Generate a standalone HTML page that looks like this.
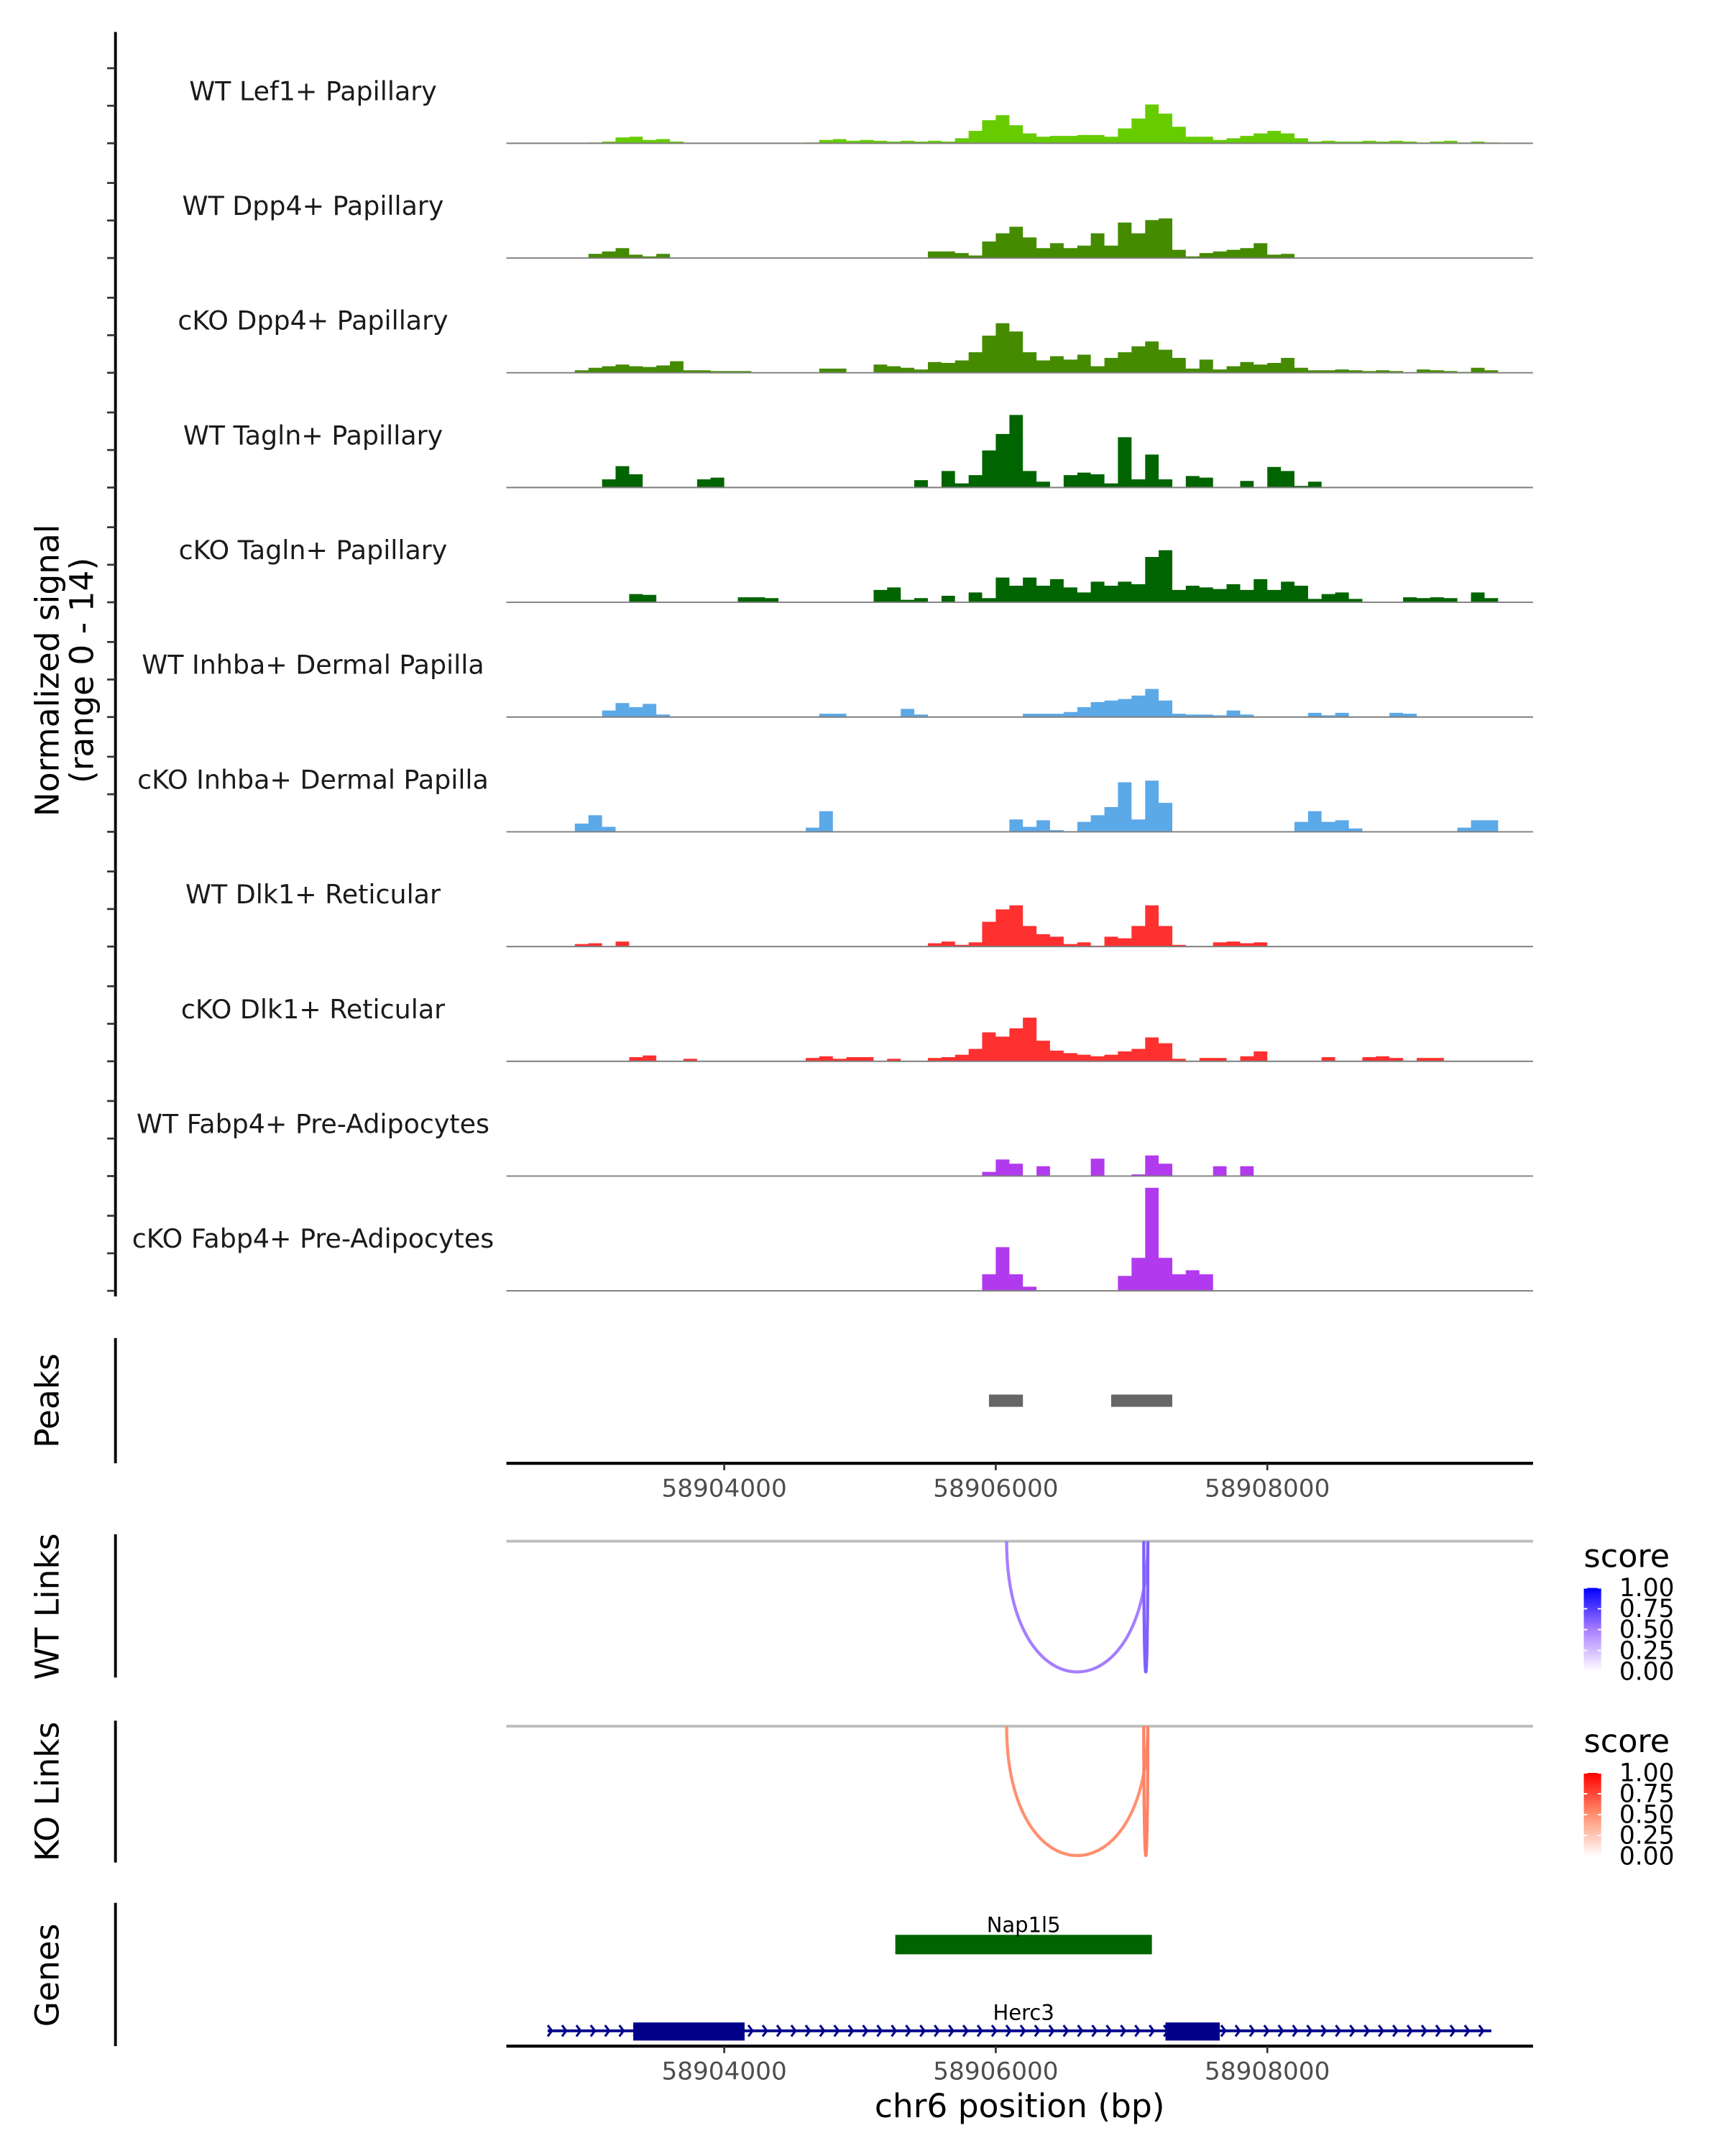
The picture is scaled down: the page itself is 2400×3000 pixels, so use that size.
<!DOCTYPE html>
<html><head><meta charset="utf-8"><style>
html,body{margin:0;padding:0;background:#fff;}
svg{display:block;font-family:"DejaVu Sans","Liberation Sans",sans-serif;}
</style></head><body>
<svg id="fig" width="2400" height="3000" viewBox="0 0 1240 1550" preserveAspectRatio="none" xmlns="http://www.w3.org/2000/svg"></svg>
<script>
// ---- data ----
const trackNames = ["WT Lef1+ Papillary","WT Dpp4+ Papillary","cKO Dpp4+ Papillary","WT Tagln+ Papillary","cKO Tagln+ Papillary","WT Inhba+ Dermal Papilla","cKO Inhba+ Dermal Papilla","WT Dlk1+ Reticular","cKO Dlk1+ Reticular","WT Fabp4+ Pre-Adipocytes","cKO Fabp4+ Pre-Adipocytes"];
const trackColors = ["#66cc00","#458b00","#458b00","#006400","#006400","#5ca9e8","#5ca9e8","#ff3030","#ff3030","#b23aee","#b23aee"];
const binStart = 58902400;
const binSize = 100;
const covLef1WT = [0,0,0,0,0,0,0.1,0.2,0.7,0.8,0.4,0.5,0.2,0,0,0,0,0,0,0,0,0,0.1,0.4,0.5,0.3,0.4,0.3,0.2,0.3,0.2,0.3,0.2,0.6,1.5,2.8,3.4,2.2,1.2,0.8,0.9,0.9,1.0,1.0,0.8,1.8,3.0,4.7,3.6,2.0,0.8,0.8,0.4,0.6,0.9,1.2,1.5,1.2,0.6,0.2,0.3,0.2,0.2,0.3,0.2,0.3,0.2,0.1,0.2,0.3,0.1,0.2,0.1,0,0,0];
const covDpp4WT = [0,0,0,0,0,0,0.5,0.8,1.2,0.4,0.2,0.5,0,0,0,0,0,0,0,0,0,0,0,0,0,0,0,0,0,0,0,0.8,0.8,0.6,0.3,2.0,3.0,3.8,2.5,1.2,1.8,1.2,1.5,3.0,1.5,4.3,3.0,4.6,4.8,1.0,0.2,0.6,0.8,1.0,1.2,1.8,0.4,0.5,0,0,0,0,0,0,0,0,0,0,0,0,0,0,0,0,0,0];
const covDpp4KO = [0,0,0,0,0,0.3,0.6,0.8,1.0,0.8,0.7,0.9,1.4,0.3,0.3,0.2,0.2,0.2,0,0,0,0,0,0.5,0.5,0,0,1.0,0.8,0.6,0.4,1.3,1.2,1.5,2.5,4.5,6.0,5.0,2.5,1.5,2.0,1.6,2.2,0.8,1.8,2.5,3.2,3.8,2.8,1.8,0.5,1.6,0.4,0.8,1.3,1.0,1.2,1.8,0.6,0.3,0.3,0.4,0.3,0.2,0.3,0.2,0,0.4,0.3,0.2,0.1,0.6,0.3,0,0,0];
const covTaglnWT = [0,0,0,0,0,0,0,1.0,2.6,1.6,0,0,0,0,1.0,1.2,0,0,0,0,0,0,0,0,0,0,0,0,0,0,0.9,0,2.0,0.5,1.5,4.5,6.5,8.8,2.0,0.7,0,1.5,1.8,1.6,0.5,6.1,1.0,4.0,1.0,0,1.4,1.2,0,0,0.8,0,2.5,2.0,0.2,0.7,0,0,0,0,0,0,0,0,0,0,0,0,0,0,0,0];
const covTaglnKO = [0,0,0,0,0,0,0,0,0,1.0,0.9,0,0,0,0,0,0,0.6,0.6,0.5,0,0,0,0,0,0,0,1.5,1.8,0.3,0.5,0,0.8,0,1.2,0.5,3.0,2.0,3.0,2.0,2.8,1.8,1.2,2.5,2.0,2.5,2.2,5.5,6.3,1.5,2.0,1.8,1.6,2.2,1.5,2.8,1.5,2.5,2.0,0.4,1.0,1.2,0.4,0,0,0,0.6,0.5,0.6,0.5,0,1.2,0.5,0,0,0];
const covInhbaWT = [0,0,0,0,0,0,0,0.8,1.7,1.2,1.6,0.3,0,0,0,0,0,0,0,0,0,0,0,0.4,0.4,0,0,0,0,1.0,0.3,0,0,0,0,0,0,0,0.4,0.4,0.4,0.6,1.2,1.8,2.0,2.2,2.6,3.4,2.0,0.4,0.3,0.3,0.2,0.8,0.3,0,0,0,0,0.5,0.2,0.5,0,0,0,0.5,0.4,0,0,0,0,0,0,0,0,0];
const covInhbaKO = [0,0,0,0,0,1.0,2.0,0.6,0,0,0,0,0,0,0,0,0,0,0,0,0,0,0.5,2.5,0,0,0,0,0,0,0,0,0,0,0,0,0,1.5,0.6,1.4,0.2,0,1.2,2.0,3.0,6.0,1.5,6.2,3.5,0,0,0,0,0,0,0,0,0,1.2,2.5,1.2,1.4,0.4,0,0,0,0,0,0,0,0.5,1.4,1.4,0,0,0];
const covDlk1WT = [0,0,0,0,0,0.3,0.4,0,0.6,0,0,0,0,0,0,0,0,0,0,0,0,0,0,0,0,0,0,0,0,0,0,0.4,0.6,0.2,0.5,3.0,4.5,5.0,2.5,1.5,1.2,0.3,0.5,0.1,1.2,1.0,2.5,5.0,2.5,0.2,0,0,0.5,0.6,0.4,0.5,0,0,0,0,0,0,0,0,0,0,0,0,0,0,0,0,0,0,0,0];
const covDlk1KO = [0,0,0,0,0,0,0,0,0,0.5,0.7,0,0,0.3,0,0,0,0,0,0,0,0,0.4,0.6,0.3,0.5,0.5,0,0.3,0,0,0.4,0.5,0.8,1.5,3.5,3.0,4.0,5.3,2.5,1.3,1.0,0.8,0.6,0.8,1.2,1.5,2.9,2.2,0.3,0,0.4,0.4,0,0.6,1.2,0,0,0,0,0.5,0,0,0.5,0.6,0.4,0,0.4,0.4,0,0,0,0,0,0,0];
const covFabp4WT = [0,0,0,0,0,0,0,0,0,0,0,0,0,0,0,0,0,0,0,0,0,0,0,0,0,0,0,0,0,0,0,0,0,0,0,0.5,2.0,1.5,0,1.2,0,0,0,2.1,0,0,0.2,2.5,1.5,0,0,0,1.2,0,1.2,0,0,0,0,0,0,0,0,0,0,0,0,0,0,0,0,0,0,0,0,0];
const covFabp4KO = [0,0,0,0,0,0,0,0,0,0,0,0,0,0,0,0,0,0,0,0,0,0,0,0,0,0,0,0,0,0,0,0,0,0,0,2.0,5.3,2.0,0.5,0,0,0,0,0,0,1.8,4.0,12.5,4.0,2.0,2.5,2.0,0,0,0,0,0,0,0,0,0,0,0,0,0,0,0,0,0,0,0,0,0,0,0,0];
const coverage = [covLef1WT,covDpp4WT,covDpp4KO,covTaglnWT,covTaglnKO,covInhbaWT,covInhbaKO,covDlk1WT,covDlk1KO,covFabp4WT,covFabp4KO];
const yTicks = [0, 4.55, 9.1];
const peakStarts = [58905950, 58906850];
const peakEnds = [58906200, 58907300];
const xTicks = [58904000, 58906000, 58908000];
const wtLinkStart = [58906080, 58907090];
const wtLinkEnd = [58907120, 58907120];
const wtLinkScore = [0.5, 0.62];
const koLinkStart = [58906080, 58907090];
const koLinkEnd = [58907120, 58907120];
const koLinkScore = [0.5, 0.55];
const legendTicks = [1.00, 0.75, 0.50, 0.25, 0.00];
const geneNames = ["Nap1l5","Herc3"];
const geneStarts = [58905260, 58902700];
const geneEnds = [58907150, 58909650];
const herc3ExonStarts = [58903330, 58907250];
const herc3ExonEnds = [58904150, 58907650];

// ---- scales ----
const X0 = 364, X1 = 1102;
function xs(bp){ return 715.8 + (bp - 58906000) * 0.0976; }
const trackBase0 = 103, trackStep = 82.5, unitPx = 5.93;
function ys(k, v){ return trackBase0 + trackStep*k - v*unitPx; }

const svg = document.getElementById('fig');
const NS = "http://www.w3.org/2000/svg";
function mk(tag, attrs, parent){
  const e = document.createElementNS(NS, tag);
  for (const k in attrs) e.setAttribute(k, attrs[k]);
  (parent||svg).appendChild(e);
  return e;
}
function txt(s, attrs, parent){ const e = mk('text', attrs, parent); e.textContent = s; return e; }

// y axis title
const yt = txt("", {x:0,y:0,transform:"translate(42,482) rotate(-90)","text-anchor":"middle","font-size":"23.5",fill:"#000"});


const t1 = mk('tspan',{x:0,y:0},yt); t1.textContent="Normalized signal";
const t2 = mk('tspan',{x:0,y:25},yt); t2.textContent="(range 0 - 14)";

const la = mk('line',{x1:83,y1:23,x2:83,y2:932,stroke:"#000","stroke-width":"2"});



coverage.forEach((vals, k) => {
  const g = mk('g',{});
  
  
  yTicks.forEach(t => {
    const tk = mk('line',{x1:77,x2:83,y1:ys(k,t),y2:ys(k,t),stroke:"#333","stroke-width":"1.4"},g);
    
    
  });
  const lab = txt(trackNames[k],{x:225,y:ys(k,0)-31,"text-anchor":"middle","font-size":"18.8",fill:"#1a1a1a"},g);
  
  
  let d = "M" + X0 + "," + ys(k,0);
  vals.forEach((v,i) => {
    const xa = xs(binStart + i*binSize), xb = xs(binStart + (i+1)*binSize);
    d += " L" + xa.toFixed(1) + "," + ys(k,v).toFixed(1) + " L" + xb.toFixed(1) + "," + ys(k,v).toFixed(1);
  });
  d += " L" + X1 + "," + ys(k,0) + " Z";
  const area = mk('path',{d:d,fill:trackColors[k],stroke:"none"},g);
  
  
  const bl = mk('line',{x1:X0,x2:X1,y1:ys(k,0),y2:ys(k,0),stroke:"#7f7f7f","stroke-width":"1"},g);
  
  
});

function sideTitle(s, cy, name){
  const e = txt(s,{x:0,y:0,transform:"translate(42,"+cy+") rotate(-90)","text-anchor":"middle","font-size":"23.5",fill:"#000"});
  
  
}
function sideLine(y1,y2,name){
  const e = mk('line',{x1:83,x2:83,y1:y1,y2:y2,stroke:"#000","stroke-width":"2"});
  
  
}
function xAxis(y, name){
  const g = mk('g',{});
  
  
  mk('line',{x1:X0,x2:X1,y1:y,y2:y,stroke:"#000","stroke-width":"2.2"},g);
  xTicks.forEach(t => {
    mk('line',{x1:xs(t),x2:xs(t),y1:y,y2:y+5,stroke:"#333","stroke-width":"1.4"},g);
    const l = txt(String(t),{x:xs(t),y:y+24,"text-anchor":"middle","font-size":"17.7",fill:"#4d4d4d"},g);
    
    
  });
}

// Peaks
sideTitle("Peaks",1007,'peaks-title');
sideLine(962,1052,'peaks-axis-line');
peakStarts.forEach((s,i) => {
  const r = mk('rect',{x:xs(s),y:1002.6,width:xs(peakEnds[i])-xs(s),height:8.8,fill:"#666"});
  
  
});
xAxis(1052,'peaks-x-axis');

// color scales (white -> mid -> full)
function hex(c){ return [parseInt(c.slice(1,3),16),parseInt(c.slice(3,5),16),parseInt(c.slice(5,7),16)]; }
function lerp(a,b,t){ return a.map((v,i)=>Math.round(v+(b[i]-v)*t)); }
function scaleColor(stops, t){
  const a = hex(stops[0]), m = hex(stops[1]), b = hex(stops[2]);
  const c = t < 0.5 ? lerp(a,m,t/0.5) : lerp(m,b,(t-0.5)/0.5);
  return "rgb("+c.join(",")+")";
}
const wtStops = ["#ffffff","#a77dff","#0000ff"];
const koStops = ["#ffffff","#ff9070","#ff0000"];

function links(starts, ends, scores, top, bottom, stops, name){
  const g = mk('g',{});
  
  
  mk('line',{x1:X0,x2:X1,y1:top,y2:top,stroke:"#bebebe","stroke-width":"2"},g);
  starts.forEach((s,i) => {
    const a = xs(s), b = xs(ends[i]);
    const cy = top + (bottom - top) / 0.75;
    const p = mk('path',{d:"M"+a+","+top+" C"+a+","+cy+" "+b+","+cy+" "+b+","+top,fill:"none",stroke:scaleColor(stops,scores[i]),"stroke-width":"2.2"},g);
    
    
  });
}
function legend(top, stops, name){
  const g = mk('g',{});
  
  
  txt("score",{x:1138.5,y:top,"font-size":"23",fill:"#000"},g);
  const gid = name + "-grad";
  const defs = mk('defs',{},g);
  const lg = mk('linearGradient',{id:gid,x1:0,y1:1,x2:0,y2:0},defs);
  mk('stop',{offset:"0",'stop-color':stops[0]},lg);
  mk('stop',{offset:"0.5",'stop-color':stops[1]},lg);
  mk('stop',{offset:"1",'stop-color':stops[2]},lg);
  const cbTop = top + 15, cbH = 60;
  mk('rect',{x:1138.5,y:cbTop,width:12.5,height:cbH,fill:"url(#"+gid+")"},g);
  legendTicks.forEach(v => {
    const y = cbTop + (1-v)*cbH;
    mk('line',{x1:1138.5,x2:1141,y1:y,y2:y,stroke:"#fff","stroke-width":"1"},g);
    mk('line',{x1:1148.5,x2:1151,y1:y,y2:y,stroke:"#fff","stroke-width":"1"},g);
    const l = txt(v.toFixed(2),{x:1164,y:y+6,"font-size":"17.8",fill:"#000"},g);
    
    
  });
}
sideTitle("WT Links",1155,'wt-links-title');
sideLine(1103,1206,'wt-links-axis-line');
links(wtLinkStart, wtLinkEnd, wtLinkScore, 1108, 1202, wtStops, 'wt-links');
legend(1126.6, wtStops, 'wt-score-legend');

sideTitle("KO Links",1288,'ko-links-title');
sideLine(1237,1339,'ko-links-axis-line');
links(koLinkStart, koLinkEnd, koLinkScore, 1241, 1334, koStops, 'ko-links');
legend(1259.6, koStops, 'ko-score-legend');

// Genes
sideTitle("Genes",1420,'genes-title');
sideLine(1368,1471,'genes-axis-line');
const gg = mk('g',{});


const nap = mk('rect',{x:xs(geneStarts[0]),y:1391,width:xs(geneEnds[0])-xs(geneStarts[0]),height:14,fill:"#006400"},gg);


txt(geneNames[0],{x:(xs(geneStarts[0])+xs(geneEnds[0]))/2,y:1389,"text-anchor":"middle","font-size":"15",fill:"#000"},gg);
const h0 = xs(geneStarts[1]), h1 = xs(geneEnds[1]);
const hl = mk('line',{x1:h0,x2:h1,y1:1460,y2:1460,stroke:"#00008b","stroke-width":"2"},gg);


let ad = "";
for (let x = h0 + 3; x <= h1; x += 10.3) ad += "M"+(x-3)+",1456 L"+x+",1460 L"+(x-3)+",1464 ";
mk('path',{d:ad,fill:"none",stroke:"#00008b","stroke-width":"1.6"},gg);
herc3ExonStarts.forEach((s,i) => {
  const r = mk('rect',{x:xs(s),y:1454,width:xs(herc3ExonEnds[i])-xs(s),height:13,fill:"#00008b"},gg);
  
  
});
txt(geneNames[1],{x:(xs(58905260)+xs(58907150))/2,y:1452,"text-anchor":"middle","font-size":"15",fill:"#000"},gg);
xAxis(1471,'genes-x-axis');

const xt = txt("chr6 position (bp)",{x:733,y:1522,"text-anchor":"middle","font-size":"23.5",fill:"#000"});


</script>
</body></html>
